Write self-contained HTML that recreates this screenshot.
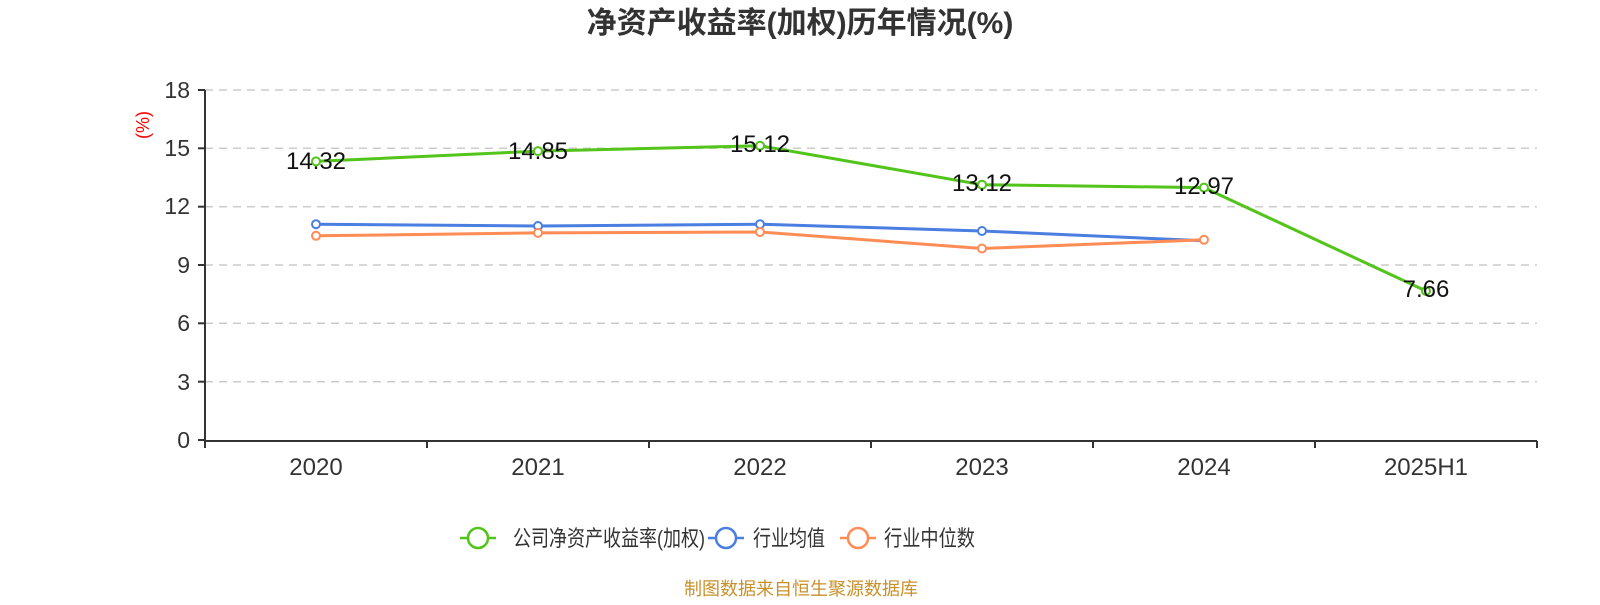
<!DOCTYPE html>
<html><head><meta charset="utf-8"><style>
body{margin:0;background:#fff;}
svg text{font-family:"Liberation Sans","Noto Sans CJK SC",sans-serif;}
</style></head><body>
<svg width="1600" height="600" xmlns="http://www.w3.org/2000/svg">
<text x="800" y="33" text-anchor="middle" font-size="30" font-weight="bold" fill="#333">净资产收益率(加权)历年情况(%)</text>
<g stroke="#ccc" stroke-width="1.5" stroke-dasharray="8,6">
<line x1="205" x2="1537" y1="90" y2="90"/><line x1="205" x2="1537" y1="148.3" y2="148.3"/>
<line x1="205" x2="1537" y1="206.7" y2="206.7"/><line x1="205" x2="1537" y1="265" y2="265"/>
<line x1="205" x2="1537" y1="323.3" y2="323.3"/><line x1="205" x2="1537" y1="381.7" y2="381.7"/>
</g>
<g stroke="#333" stroke-width="2">
<line x1="205" x2="205" y1="90" y2="441"/><line x1="205" x2="1537" y1="441" y2="441"/>
<line x1="198" x2="205" y1="90" y2="90"/><line x1="198" x2="205" y1="148.3" y2="148.3"/><line x1="198" x2="205" y1="206.7" y2="206.7"/><line x1="198" x2="205" y1="265" y2="265"/><line x1="198" x2="205" y1="323.3" y2="323.3"/><line x1="198" x2="205" y1="381.7" y2="381.7"/><line x1="198" x2="205" y1="440" y2="440"/>
<line x1="205" x2="205" y1="441" y2="448"/><line x1="427" x2="427" y1="441" y2="448"/><line x1="649" x2="649" y1="441" y2="448"/><line x1="871" x2="871" y1="441" y2="448"/><line x1="1093" x2="1093" y1="441" y2="448"/><line x1="1315" x2="1315" y1="441" y2="448"/><line x1="1537" x2="1537" y1="441" y2="448"/>
</g>
<g font-size="23" fill="#333" text-anchor="end">
<text x="190" y="98">18</text><text x="190" y="156">15</text><text x="190" y="214">12</text><text x="190" y="273">9</text><text x="190" y="331">6</text><text x="190" y="390">3</text><text x="190" y="448">0</text>
</g>
<text transform="translate(149,125) rotate(-90)" text-anchor="middle" font-size="18" fill="red">(%)</text>
<g font-size="24" fill="#333" text-anchor="middle">
<text x="316" y="475">2020</text><text x="538" y="475">2021</text><text x="760" y="475">2022</text><text x="982" y="475">2023</text><text x="1204" y="475">2024</text><text x="1426" y="475">2025H1</text>
</g>
<polyline fill="none" stroke="#4a7ee0" stroke-width="3" points="316,224.2 538,226 760,224.2 982,231 1204,240.8"/>
<polyline fill="none" stroke="#ff8c55" stroke-width="3" points="316,235.8 538,232.9 760,232 982,248.5 1204,239.8"/>
<polyline fill="none" stroke="#52c41a" stroke-width="3" points="316,161.4 538,151.1 760,145.8 982,184.7 1204,187.6 1426,291"/>
<g fill="#fff" stroke-width="2">
<g stroke="#4a7ee0"><circle cx="316" cy="224.2" r="4"/><circle cx="538" cy="226" r="4"/><circle cx="760" cy="224.2" r="4"/><circle cx="982" cy="231" r="4"/></g>
<g stroke="#ff8c55"><circle cx="316" cy="235.8" r="4"/><circle cx="538" cy="232.9" r="4"/><circle cx="760" cy="232" r="4"/><circle cx="982" cy="248.5" r="4"/><circle cx="1204" cy="239.8" r="4"/></g>
<g stroke="#52c41a"><circle cx="316" cy="161.4" r="4"/><circle cx="538" cy="151.1" r="4"/><circle cx="760" cy="145.8" r="4"/><circle cx="982" cy="184.7" r="4"/><circle cx="1204" cy="187.6" r="4"/><circle cx="1426" cy="291" r="4"/></g>
</g>
<g font-size="24" fill="#111" text-anchor="middle">
<text x="316" y="169">14.32</text><text x="538" y="159">14.85</text><text x="760" y="152">15.12</text><text x="982" y="191">13.12</text><text x="1204" y="194">12.97</text><text x="1426" y="297">7.66</text>
</g>
<g stroke-width="2.5" fill="#fff">
<line x1="460" x2="496" y1="538" y2="538" stroke="#52c41a"/><circle cx="478" cy="538" r="10" stroke="#52c41a"/>
<line x1="708" x2="744" y1="538" y2="538" stroke="#4a7ee0"/><circle cx="726" cy="538" r="10" stroke="#4a7ee0"/>
<line x1="840" x2="876" y1="538" y2="538" stroke="#ff8c55"/><circle cx="858" cy="538" r="10" stroke="#ff8c55"/>
</g>
<g font-size="22" fill="#333">
<text x="513" y="546" textLength="192" lengthAdjust="spacingAndGlyphs">公司净资产收益率(加权)</text><text x="753" y="546" textLength="72" lengthAdjust="spacingAndGlyphs">行业均值</text><text x="884" y="546" textLength="91" lengthAdjust="spacingAndGlyphs">行业中位数</text>
</g>
<text x="801" y="595" text-anchor="middle" font-size="18" fill="#c8902a">制图数据来自恒生聚源数据库</text>
</svg>
</body></html>
